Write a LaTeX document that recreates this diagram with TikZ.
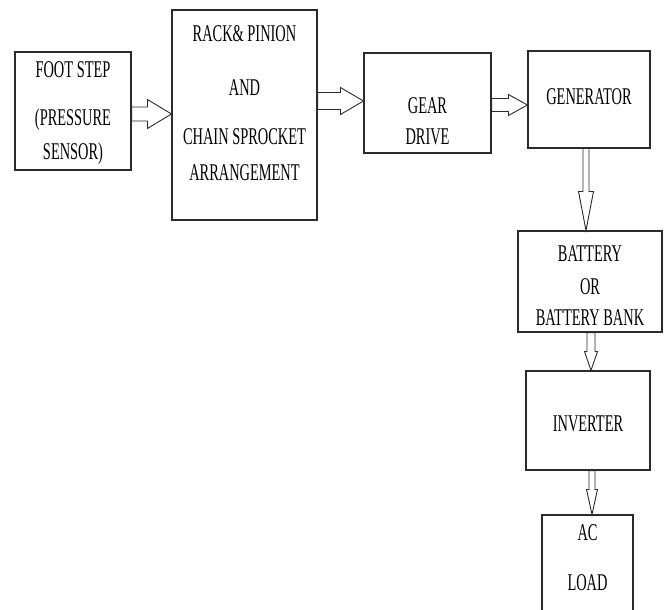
\documentclass[tikz,border=0pt]{standalone}
\usepackage{fontspec}
\newfontfamily\blockfont[FakeStretch=0.6]{Liberation Serif}
\usepackage{tikz}
\usetikzlibrary{calc}
\usepackage{xcolor}
\definecolor{LineGray}{HTML}{2B2B2B}

% hollow block arrows: tail, tip, shaft half width, head half width, head length
\newcommand{\harrow}[5]{%
  \draw[flowarrow] let \p1=(#1), \p2=(#2) in
    (\x1,{\y1+#3}) -- ({\x2-#5},{\y1+#3}) -- ({\x2-#5},{\y1+#4}) -- (\x2,\y1)
    -- ({\x2-#5},{\y1-#4}) -- ({\x2-#5},{\y1-#3}) -- (\x1,{\y1-#3}) -- cycle;}
\newcommand{\varrow}[5]{%
  \draw[flowarrow] let \p1=(#1), \p2=(#2) in
    ({\x1-#3},\y1) -- ({\x1-#3},{\y2+#5}) -- ({\x1-#4},{\y2+#5}) -- (\x1,\y2)
    -- ({\x1+#4},{\y2+#5}) -- ({\x1+#3},{\y2+#5}) -- ({\x1+#3},\y1) -- cycle;}

\begin{document}
\begin{tikzpicture}[x=1pt, y=-1pt, font=\blockfont\fontsize{24}{35}\selectfont,
  block/.style={draw=LineGray, line width=1.1pt, inner sep=0pt, align=center, text=black},
  flowarrow/.style={draw=LineGray, line width=0.9pt, fill=white, line join=miter}]
  \useasboundingbox[fill=white] (0,0) rectangle (665,610);
  % Top row
  \node[block, minimum width=116pt, minimum height=118pt, text height=98pt, text depth=0pt]
    (foot) at (73,111) {FOOT STEP\\[13pt] (PRESSURE\\ SENSOR)};
  \node[block, minimum width=145pt, minimum height=210pt, text height=130pt, text depth=0pt]
    (rack) at (244.5,115) {RACK\& PINION\\[19pt] AND\\[15pt] CHAIN SPROCKET\\ ARRANGEMENT};
  \node[block, minimum width=127pt, minimum height=100pt, text height=82pt, text depth=0pt]
    (gear) at (427.5,103) {GEAR\\[-4pt] DRIVE};
  \node[block, minimum width=122pt, minimum height=97pt, text height=11pt, text depth=0pt]
    (gen) at (589,99.5) {GENERATOR};
  % Right column
  \node[block, minimum width=144pt, minimum height=101pt, text height=87pt, text depth=0pt]
    (batt) at (590,281.5) {BATTERY\\[-2pt] OR\\[-4pt] BATTERY BANK};
  \node[block, minimum width=124pt, minimum height=99pt, text height=21pt, text depth=0pt]
    (inv) at (588,420.5) {INVERTER};
  \node[block, minimum width=91pt, minimum height=97pt, text height=53pt, text depth=0pt]
    (load) at (587.5,563.5) {AC\\[15pt] LOAD};
  % Arrows
  \harrow{$(foot.east)+(0,3)$}{rack.west}{7pt}{14.5pt}{24pt}
  \harrow{$(rack.east)+(0,-14)$}{gear.west}{8.5pt}{13.5pt}{23pt}
  \harrow{$(gear.east)+(0,2)$}{gen.west}{6.5pt}{10.5pt}{19pt}
  \varrow{$(gen.south)+(-3,0)$}{batt.north}{3pt}{7.5pt}{39pt}
  \varrow{$(batt.south)+(1,0)$}{inv.north}{4pt}{6.5pt}{19pt}
  \varrow{$(inv.south)+(4,0)$}{load.north}{3pt}{5.5pt}{25pt}
\end{tikzpicture}
\end{document}
